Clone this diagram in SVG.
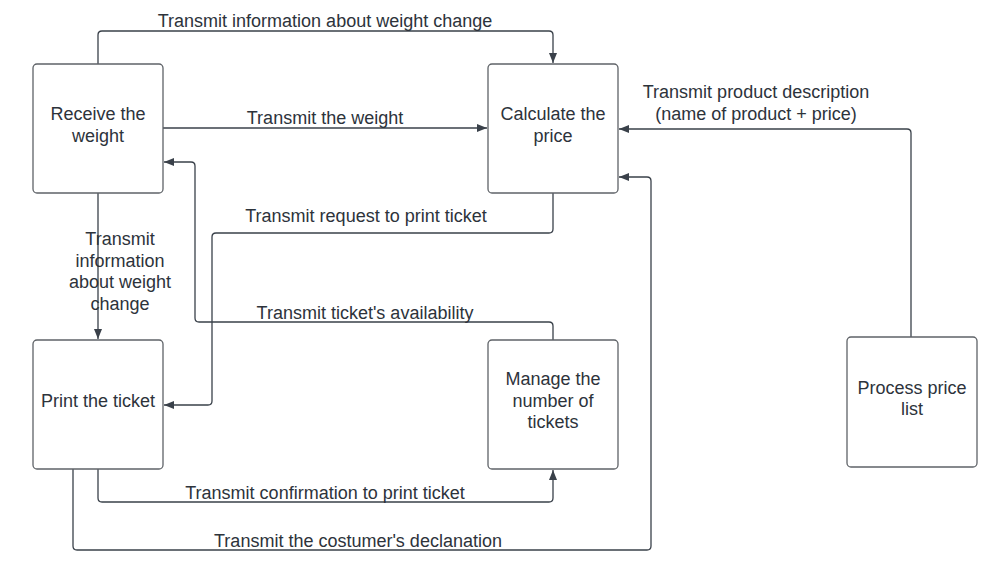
<svg xmlns="http://www.w3.org/2000/svg" width="1008" height="562" viewBox="0 0 1008 562">
<defs>
<style>
.box{fill:#fff;stroke:#5f6368;stroke-width:1.3}
.t{font-family:"Liberation Sans",Arial,sans-serif;font-size:18px;fill:#2d333b;text-anchor:middle;dominant-baseline:central}
.c{fill:none;stroke:#3a414a;stroke-width:1.3;stroke-linejoin:round}
</style>
<marker id="ah" viewBox="0 0 10 10" refX="10" refY="5" markerWidth="10" markerHeight="10" markerUnits="userSpaceOnUse" orient="auto">
<path d="M0,1 L10,5 L0,9 Z" fill="#3a414a"/>
</marker>
</defs>
<rect width="1008" height="562" fill="#fff"/>
<g id="connectors">
<path class="c" marker-end="url(#ah)" d="M98,64 V35 Q98,31 102,31 H549 Q553,31 553,35 V63"/>
<path class="c" marker-end="url(#ah)" d="M163,128 H487"/>
<path class="c" marker-end="url(#ah)" d="M553,193 V229 Q553,233 549,233 H216 Q212,233 212,237 V401 Q212,405 208,405 H164"/>
<path class="c" marker-end="url(#ah)" d="M553,340 V326 Q553,322 549,322 H199 Q195,322 195,318 V166 Q195,162 191,162 H164"/>
<path class="c" marker-end="url(#ah)" d="M98,193 V339"/>
<path class="c" marker-end="url(#ah)" d="M98,469 V498 Q98,502 102,502 H549 Q553,502 553,498 V470"/>
<path class="c" marker-end="url(#ah)" d="M73,469 V546 Q73,550 77,550 H647 Q651,550 651,546 V181 Q651,177 647,177 H619"/>
<path class="c" marker-end="url(#ah)" d="M911,337 V133 Q911,129 907,129 H619"/>
<text class="t" x="325" y="21">Transmit information about weight change</text>
<text class="t" x="325" y="118">Transmit the weight</text>
<text class="t" x="366" y="216">Transmit request to print ticket</text>
<text class="t" x="365" y="313">Transmit ticket's availability</text>
<text class="t" x="120" y="239">Transmit</text>
<text class="t" x="120" y="260.5">information</text>
<text class="t" x="120" y="282">about weight</text>
<text class="t" x="120" y="303.5">change</text>
<text class="t" x="325" y="492.5">Transmit confirmation to print ticket</text>
<text class="t" x="358" y="540.5">Transmit the costumer's declanation</text>
<text class="t" x="756" y="92">Transmit product description</text>
<text class="t" x="756" y="113.5">(name of product + price)</text>
</g>
<g id="receive">
<rect class="box" x="33" y="64" width="130" height="129" rx="4"/>
<text class="t" x="98" y="114">Receive the</text>
<text class="t" x="98" y="135.5">weight</text>
</g>
<g id="calculate">
<rect class="box" x="488" y="64" width="130" height="129" rx="4"/>
<text class="t" x="553" y="114">Calculate the</text>
<text class="t" x="553" y="135.5">price</text>
</g>
<g id="print">
<rect class="box" x="33" y="340" width="130" height="129" rx="4"/>
<text class="t" x="98" y="401">Print the ticket</text>
</g>
<g id="manage">
<rect class="box" x="488" y="340" width="130" height="129" rx="4"/>
<text class="t" x="553" y="379">Manage the</text>
<text class="t" x="553" y="400.5">number of</text>
<text class="t" x="553" y="422">tickets</text>
</g>
<g id="process">
<rect class="box" x="847" y="337" width="130" height="130" rx="4"/>
<text class="t" x="912" y="387.5">Process price</text>
<text class="t" x="912" y="409">list</text>
</g>
</svg>
